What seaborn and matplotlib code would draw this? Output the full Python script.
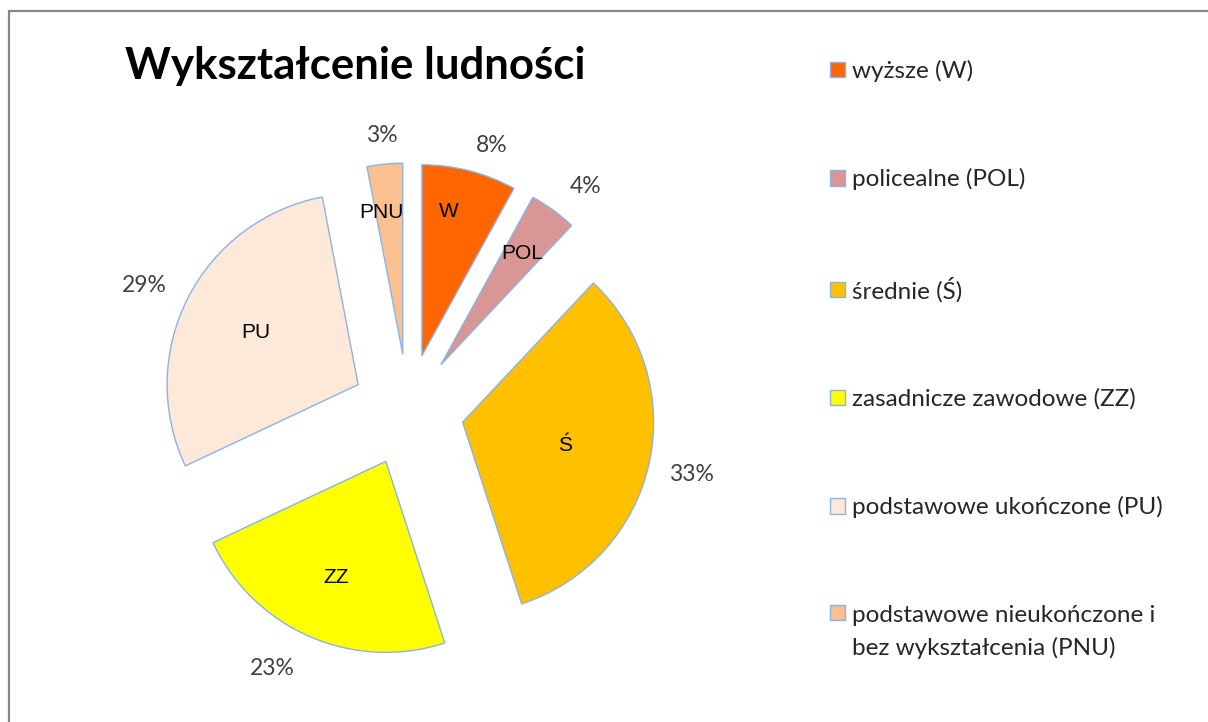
import matplotlib
matplotlib.use('Agg')
import matplotlib.pyplot as plt
import seaborn as sns
from matplotlib.patches import Rectangle
import numpy as np

sns.set_style("white")
plt.rcParams['font.family'] = ['Lato', 'DejaVu Sans']

# Dane: wykształcenie ludności (%)
kody = ['W', 'POL', 'Ś', 'ZZ', 'PU', 'PNU']
opisy = ['wyższe (W)', 'policealne (POL)', 'średnie (Ś)', 'zasadnicze zawodowe (ZZ)',
         'podstawowe ukończone (PU)', 'podstawowe nieukończone i\nbez wykształcenia (PNU)']
udzialy = [8, 4, 33, 23, 29, 3]
kolory = ['#FF6600', '#D99694', '#FFC000', '#FFFF00', '#FDE9D9', '#FAC090']

# układ (piksele)
W_PX, H_PX = 1208, 722
R_PX = 191
CX, CY = 408, 410  # środek koła w pikselach obrazu

fig = plt.figure(figsize=(W_PX / 100, H_PX / 100), dpi=100)
ax = fig.add_axes([0, 0, 1, 1])

wedges, _ = ax.pie(udzialy, colors=kolory, explode=[0.293] * len(udzialy),
                   startangle=90, counterclock=False, radius=1,
                   wedgeprops=dict(edgecolor='#8DB3E2', linewidth=1.0))

ax.set_aspect('auto')
ax.set_xlim(-CX / R_PX, (W_PX - CX) / R_PX)
ax.set_ylim(-(H_PX - CY) / R_PX, CY / R_PX)
ax.axis('off')

# etykiety w wycinkach i procenty na zewnątrz (odległość w promieniach, korekta kąta w stopniach)
dist_in = [0.77, 0.72, 0.55, 0.66, 0.60, 0.75]
kat_in = [3.8, 0, 0, 0, 0, 3.3]
dist_out = [1.163, 1.202, 1.227, 1.239, 1.236, 1.153]
kat_out = [-4.0, -2.9, -0.4, -5.3, 2.1, 0.0]
for w, kod, val, di, ai, do, ao in zip(wedges, kody, udzialy, dist_in, kat_in, dist_out, kat_out):
    th = (w.theta1 + w.theta2) / 2
    cx, cy = w.center
    t1 = np.deg2rad(th + ai)
    ax.text(cx + di * np.cos(t1), cy + di * np.sin(t1), kod, ha='center', va='center',
            fontsize=15, family='Liberation Sans', color='black')
    t2 = np.deg2rad(th + ao)
    ax.text(cx + do * np.cos(t2), cy + do * np.sin(t2), f'{val}%', ha='center', va='center',
            fontsize=16.5, color='#404040')

fig.text(355 / W_PX, 1 - 66 / H_PX, 'Wykształcenie ludności', ha='center', va='center',
         fontsize=31.5, fontweight='bold', color='black')

leg = fig.legend(wedges, opisy, loc='upper left', bbox_to_anchor=(830 / W_PX, 1 - 60 / H_PX),
                 frameon=False, fontsize=17.5, handlelength=0.6, handleheight=0.6,
                 handletextpad=0.3, labelspacing=3.55, borderpad=0, borderaxespad=0)
for t in leg.get_texts():
    t.set_color('#262626')
    t.set_linespacing(1.65)
# kwadrat przy opisie dwuwierszowym wyrównany do pierwszego wiersza
wiersze = leg._legend_handle_box.get_children()[0].get_children()
wiersze[-1].align = 'top'

fig.patches.append(Rectangle((9 / W_PX, -0.01), 1.1, 1 - 11 / H_PX + 0.01, transform=fig.transFigure,
                             fill=False, edgecolor='#868686', linewidth=1.6))

fig.savefig('out.png', dpi=100)
